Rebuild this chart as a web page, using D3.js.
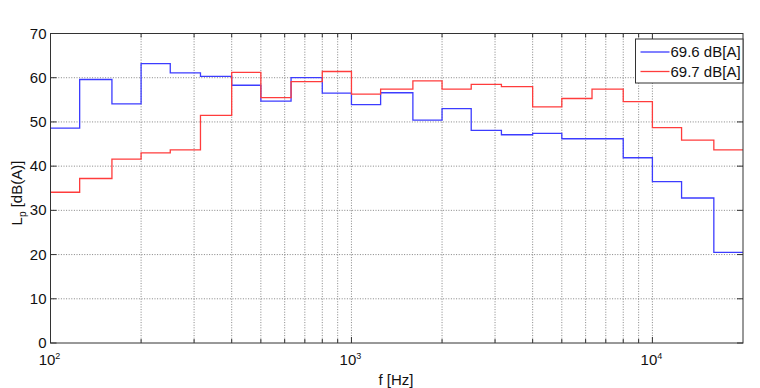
<!DOCTYPE html>
<html>
<head>
<meta charset="utf-8">
<script src="https://cdn.jsdelivr.net/npm/d3@7"></script>
<style>
  body { margin: 0; background: #fff; }
  text { font-family: "Liberation Sans", Arial, sans-serif; fill: #111; }
</style>
</head>
<body>
<svg width="760" height="388"></svg>
<script>
// third-octave band start frequencies (step drawn from each band to the next)
var bands = [100, 125, 160, 200, 250, 315, 400, 500, 630, 800, 1000, 1250, 1600,
    2000, 2500, 3150, 4000, 5000, 6300, 8000, 10000, 12500, 16000];
var fMax = 20000;
var blueVals = [48.6, 59.6, 54.1, 63.2, 61.1, 60.3, 58.3, 54.7, 60.0, 56.5, 53.9, 56.6, 50.4,
    53.0, 48.1, 47.1, 47.4, 46.2, 46.2, 41.9, 36.5, 32.8, 20.5];
var redVals = [34.1, 37.2, 41.6, 43.0, 43.7, 51.5, 61.2, 55.5, 59.1, 61.4, 56.3, 57.4, 59.3,
    57.4, 58.5, 58.0, 53.4, 55.3, 57.4, 54.6, 48.7, 45.9, 43.7];
var seriesNames = ['69.6 dB[A]', '69.7 dB[A]'];
var seriesColors = ['#3c3cff', '#ff3c3c'];
var yTicks = [0, 10, 20, 30, 40, 50, 60, 70];
var decades = [100, 1000, 10000];

function drawChart() {
    var margin = { top: 33.5, right: 17, bottom: 45, left: 50.5 };
    var size = { w: 760 - margin.left - margin.right, h: 388 - margin.top - margin.bottom };
    var svg = d3.select('svg');
    var chart = svg.append('g')
        .attr('transform', 'translate(' + margin.left + ',' + margin.top + ')');

    var x = d3.scaleLog().domain([100, fMax]).range([0, size.w]);
    var y = d3.scaleLinear().domain([0, 70]).range([size.h, 0]);

    // minor log ticks
    var minor = [];
    decades.forEach(d => { for (var k = 1; k < 10; k++) { if (d * k <= fMax) minor.push(d * k); } });

    // grid
    chart.append('g').selectAll('line.gx')
        .data(minor.filter(v => v > 100 && v < fMax))
        .enter().append('line')
        .attr('x1', d => x(d)).attr('x2', d => x(d))
        .attr('y1', 0).attr('y2', size.h)
        .attr('stroke', '#666').attr('stroke-width', 0.8)
        .attr('stroke-dasharray', '1,1.6');
    chart.append('g').selectAll('line.gy')
        .data(yTicks.filter(v => v > 0 && v < 70))
        .enter().append('line')
        .attr('x1', 0).attr('x2', size.w)
        .attr('y1', d => y(d)).attr('y2', d => y(d))
        .attr('stroke', '#666').attr('stroke-width', 0.8)
        .attr('stroke-dasharray', '1,1.6');

    // step lines
    var line = d3.line()
        .x(d => x(d.f))
        .y(d => y(d.v))
        .curve(d3.curveStepAfter);
    [blueVals, redVals].forEach((vals, i) => {
        var pts = bands.map((f, j) => ({ f: f, v: vals[j] }));
        pts.push({ f: fMax, v: vals[vals.length - 1] });
        chart.append('path')
            .datum(pts)
            .attr('fill', 'none')
            .attr('stroke', seriesColors[i])
            .attr('stroke-width', 1.3)
            .attr('d', line);
    });

    // box
    chart.append('rect')
        .attr('width', size.w).attr('height', size.h)
        .attr('fill', 'none').attr('stroke', '#333').attr('stroke-width', 1);

    // x ticks (inward, bottom and top)
    var tickG = chart.append('g').attr('stroke', '#333').attr('stroke-width', 1);
    minor.filter(v => v > 100 && v < fMax).forEach(v => {
        var len = decades.indexOf(v) >= 0 ? 6 : 4;
        tickG.append('line').attr('x1', x(v)).attr('x2', x(v)).attr('y1', size.h).attr('y2', size.h - len);
        tickG.append('line').attr('x1', x(v)).attr('x2', x(v)).attr('y1', 0).attr('y2', len);
    });
    yTicks.forEach(v => {
        tickG.append('line').attr('x1', 0).attr('x2', 6).attr('y1', y(v)).attr('y2', y(v));
        tickG.append('line').attr('x1', size.w).attr('x2', size.w - 6).attr('y1', y(v)).attr('y2', y(v));
    });

    // y tick labels
    chart.append('g').selectAll('text')
        .data(yTicks)
        .enter().append('text')
        .attr('x', -4).attr('y', d => y(d) + 5)
        .attr('text-anchor', 'end')
        .style('font-size', '15px')
        .text(d => d);

    // x tick labels 10^n
    var xl = chart.append('g').selectAll('text')
        .data(decades)
        .enter().append('text')
        .attr('x', d => x(d) - 1).attr('y', size.h + 22)
        .attr('text-anchor', 'middle')
        .style('font-size', '15px');
    xl.append('tspan').text('10');
    xl.append('tspan').attr('dy', -6).style('font-size', '9px').text(d => Math.round(Math.log10(d)));

    // axis labels
    svg.append('text')
        .attr('x', 396).attr('y', 385)
        .attr('text-anchor', 'middle')
        .style('font-size', '15px')
        .text('f [Hz]');
    var yl = svg.append('text')
        .attr('transform', 'translate(22,193) rotate(-90)')
        .attr('text-anchor', 'middle')
        .style('font-size', '15px');
    yl.append('tspan').text('L');
    yl.append('tspan').attr('dy', 4).style('font-size', '10px').text('p');
    yl.append('tspan').attr('dy', -4).text(' [dB(A)]');

    // legend
    var lg = chart.append('g').attr('transform', 'translate(' + (size.w - 107.5) + ',' + 5.5 + ')');
    lg.append('rect').attr('width', 107.5).attr('height', 44)
        .attr('fill', '#fff').attr('stroke', '#333').attr('stroke-width', 1);
    seriesNames.forEach((n, i) => {
        var yy = 13 + i * 19.5;
        lg.append('line').attr('x1', 5).attr('x2', 34).attr('y1', yy).attr('y2', yy)
            .attr('stroke', seriesColors[i]).attr('stroke-width', 1.3);
        lg.append('text').attr('x', 35).attr('y', yy + 5)
            .style('font-size', '15px').text(n);
    });
}

drawChart();
</script>
</body>
</html>
